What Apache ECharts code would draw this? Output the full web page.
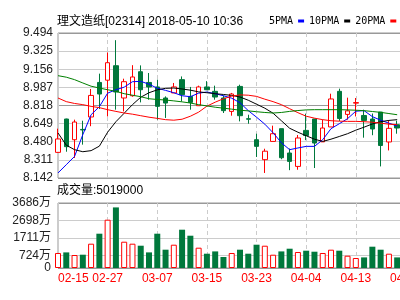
<!DOCTYPE html>
<html><head><meta charset="utf-8">
<script src="https://cdn.jsdelivr.net/npm/echarts@6/dist/echarts.min.js"></script>
<style>html,body{margin:0;padding:0;background:#fff;overflow:hidden;width:400px;height:300px}#c{width:500px;height:300px}</style>
</head><body><div id="c"></div>
<script>
const dates = ['02-15','02-20','02-21','02-22','02-23','02-26','02-27','02-28','03-01','03-02',
  '03-05','03-06','03-07','03-08','03-09','03-12','03-13','03-14','03-15','03-16',
  '03-19','03-20','03-21','03-22','03-23','03-26','03-27','03-28','03-29','04-03',
  '04-04','04-06','04-09','04-10','04-11','04-12','04-13','04-16','04-17','04-18',
  '04-19','04-20','04-23','04-24','04-25'];
const openP  = [8.381,8.692,8.499,8.595,8.711,9.033,9.054,9.189,8.888,8.909,9.133,9.033,8.991,8.888,8.935,9.059,8.903,8.816,8.991,8.950,8.888,8.763,8.996,8.695,8.499,8.313,8.483,8.602,8.375,8.250,8.586,8.692,8.479,8.618,8.950,8.735,8.840,8.725,8.692,8.757,8.478,8.639];
const closeP = [8.506,8.434,8.664,8.590,8.912,8.925,9.217,8.944,9.040,9.084,8.965,8.991,8.810,8.841,8.991,8.919,8.847,8.991,8.965,8.897,8.770,8.925,8.723,8.690,8.437,8.392,8.555,8.331,8.297,8.515,8.538,8.468,8.608,8.879,8.697,8.768,8.845,8.679,8.599,8.445,8.605,8.608];
const lowP   = [8.378,8.387,8.329,8.453,8.625,8.785,8.716,8.779,8.763,8.900,8.847,8.872,8.686,8.702,8.935,8.856,8.779,8.816,8.961,8.872,8.748,8.723,8.670,8.648,8.338,8.189,8.483,8.317,8.215,8.219,8.495,8.235,8.479,8.618,8.674,8.686,8.716,8.518,8.541,8.250,8.399,8.555];
const highP  = [8.602,8.695,8.686,8.676,8.972,9.115,9.313,9.427,9.068,9.194,9.192,9.121,9.059,8.903,9.028,9.089,8.991,9.003,9.045,9.003,8.912,8.935,9.012,8.732,8.555,8.415,8.630,8.602,8.417,8.543,8.742,8.692,8.686,8.928,8.975,8.891,8.888,8.779,8.743,8.757,8.676,8.676];
const volume = [851,885,737,754,1378,1945,2739,3436,1491,1378,1264,885,1945,1038,1321,2172,1831,1151,811,941,624,851,1038,811,1321,1264,754,941,1094,907,981,924,851,1038,981,697,567,601,1208,1038,811,601];
const ma5  = [8.189,8.266,8.343,8.546,8.732,8.807,8.933,8.965,8.989,9.040,9.043,9.017,8.979,8.959,8.937,8.909,8.900,8.933,8.944,8.928,8.909,8.886,8.844,8.770,8.709,8.644,8.564,8.471,8.406,8.422,8.437,8.437,8.499,8.602,8.648,8.695,8.765,8.770,8.714,8.681,8.653,8.627];
const ma10 = [8.562,8.448,8.406,8.387,8.397,8.439,8.569,8.667,8.746,8.826,8.895,8.937,8.964,8.978,8.981,8.972,8.961,8.945,8.937,8.928,8.921,8.912,8.897,8.867,8.830,8.793,8.746,8.676,8.606,8.569,8.536,8.504,8.483,8.504,8.529,8.555,8.588,8.616,8.646,8.667,8.679,8.686];
const ma20 = [8.888,8.854,8.837,8.826,8.810,8.798,8.779,8.763,8.748,8.737,8.723,8.709,8.698,8.686,8.681,8.690,8.718,8.756,8.812,8.849,8.881,8.905,8.917,8.914,8.903,8.877,8.854,8.826,8.788,8.751,8.718,8.700,8.686,8.676,8.672,8.670,8.670,8.667,8.662,8.653,8.644,8.639];
const ma30 = [9.096,9.082,9.059,9.028,8.998,8.981,8.965,8.950,8.928,8.914,8.900,8.881,8.874,8.869,8.861,8.852,8.841,8.826,8.814,8.802,8.793,8.784,8.774,8.768,8.760,8.753,8.748,8.753,8.763,8.771,8.777,8.779,8.779,8.779,8.779,8.777,8.774,8.770,8.762,8.754,8.743,8.732];
const priceTicks = [8.142,8.311,8.480,8.649,8.818,8.987,9.156,9.325,9.494];
const volTicks = [0,724,1711,2698,3686];

const UP = '#ff0000', DOWN = '#00783c';
const FONT = '"Liberation Sans","Noto Sans CJK SC",sans-serif';
const candles = openP.map((o, i) => [o, closeP[i], lowP[i], highP[i]]);
const volData = volume.map((v, i) => ({
  value: v,
  itemStyle: closeP[i] >= openP[i]
    ? { color: '#ffffff', borderColor: UP, borderWidth: 1 }
    : { color: DOWN, borderColor: DOWN, borderWidth: 0 }
}));

const chart = echarts.init(document.getElementById('c'), null, { renderer: 'canvas' });
const dashed = { show: true, interval: 5, lineStyle: { color: '#cccccc', type: [4, 3], width: 1 } };
const maLine = (name, data, color) => ({
  name, type: 'line', data, xAxisIndex: 0, yAxisIndex: 0, showSymbol: false, symbol: 'none',
  lineStyle: { color, width: 1 }, itemStyle: { color }, silent: true, z: 3
});
chart.setOption({
  animation: false,
  backgroundColor: '#ffffff',
  title: [
    { text: '理文造纸[02314] 2018-05-10 10:36', left: 57, top: 16, padding: 0,
      textStyle: { fontFamily: FONT, fontSize: 12, fontWeight: 'normal', color: '#000' } },
    { text: '成交量:5019000', left: 57, top: 185, padding: 0,
      textStyle: { fontFamily: FONT, fontSize: 12, fontWeight: 'normal', color: '#000' } }
  ],
  legend: {
    left: 269, top: 16, width: 230, padding: 0, align: 'right', icon: 'rect',
    itemWidth: 6, itemHeight: 3, itemGap: 5, selectedMode: false,
    data: ['5PMA', '10PMA', '20PMA', '30PMA'],
    textStyle: { fontFamily: '"DejaVu Sans Mono",monospace', fontSize: 10, color: '#000' }
  },
  grid: [
    { left: 58, width: 364, top: 33, height: 145, show: true, borderColor: '#999999', borderWidth: 1, backgroundColor: 'transparent' },
    { left: 58, width: 364, top: 203, height: 65, show: true, borderColor: '#999999', borderWidth: 1, backgroundColor: 'transparent' }
  ],
  xAxis: [
    { type: 'category', gridIndex: 0, data: dates, boundaryGap: false,
      axisLine: { show: false }, axisTick: { show: false }, axisLabel: { show: false }, splitLine: dashed },
    { type: 'category', gridIndex: 1, data: dates, boundaryGap: false,
      axisLine: { show: false }, axisTick: { show: false }, splitLine: dashed,
      axisLabel: { show: true, interval: 5, color: '#ff0000', fontFamily: FONT, fontSize: 12, margin: 5, alignMinLabel: 'left' } }
  ],
  yAxis: [
    { type: 'value', gridIndex: 0, min: 8.142, max: 9.494, scale: true,
      axisLine: { show: false },
      axisTick: { show: false, customValues: priceTicks },
      axisLabel: { customValues: priceTicks, color: '#222', fontFamily: FONT, fontSize: 12, margin: 5,
        formatter: v => v.toFixed(3) },
      splitLine: { show: true, lineStyle: { color: ['#999999', '#cccccc', '#cccccc', '#cccccc'], width: 1 } } },
    { type: 'value', gridIndex: 1, min: 0, max: 3686,
      axisLine: { show: false },
      axisTick: { show: false, customValues: volTicks },
      axisLabel: { customValues: volTicks, color: '#222', fontFamily: FONT, fontSize: 12, margin: 7,
        formatter: v => v === 0 ? '0' : Math.round(v) + '万' },
      splitLine: { show: true, lineStyle: { color: ['#999999', '#cccccc', '#cccccc', '#cccccc', '#999999'], width: 1 } } }
  ],
  series: [
    { name: 'K', type: 'candlestick', data: candles, xAxisIndex: 0, yAxisIndex: 0, barWidth: 5, clip: false,
      silent: true, z: 2,
      itemStyle: { color: '#ffffff', color0: DOWN, borderColor: UP, borderColor0: DOWN, borderWidth: 1 } },
    maLine('5PMA', ma5, '#0000ff'),
    maLine('10PMA', ma10, '#000000'),
    maLine('20PMA', ma20, '#ff0000'),
    maLine('30PMA', ma30, '#008000'),
    { name: 'VOL', type: 'bar', data: volData, xAxisIndex: 1, yAxisIndex: 1, barWidth: 6, clip: false, silent: true }
  ]
});
</script>
</body></html>
